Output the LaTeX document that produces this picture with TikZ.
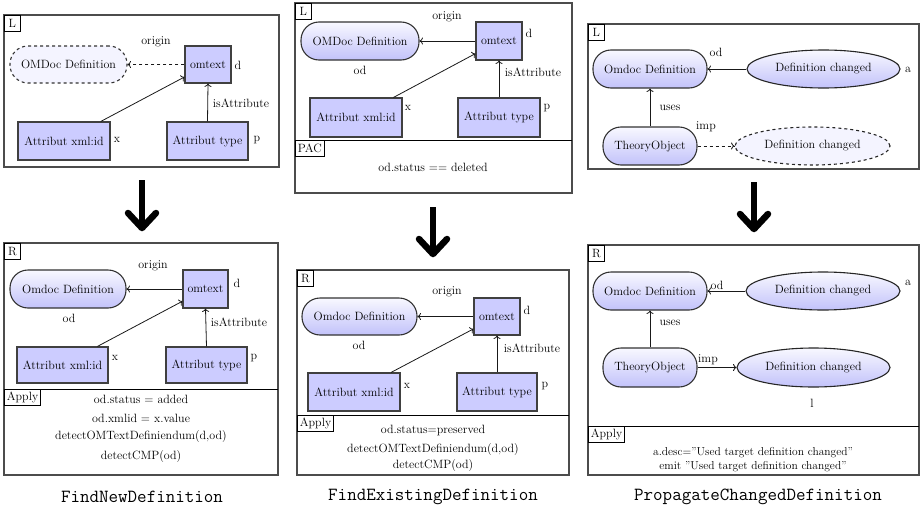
\documentclass[tikz,border=0pt]{standalone}
\usepackage{fontspec}
\usetikzlibrary{shapes.geometric,arrows.meta}
\definecolor{nodeblue}{RGB}{204,204,255}
\definecolor{gradtop}{RGB}{248,248,255}
\definecolor{gradbot}{RGB}{194,194,250}
\definecolor{paleblue}{RGB}{244,244,255}
\begin{document}
\begin{tikzpicture}[x=1pt,y=-1pt,font=\fontsize{12}{14}\selectfont,
  frame/.style={draw=black!70,line width=1.2pt},
  sepline/.style={draw=black,line width=0.8pt},
  tag/.style={draw,line width=0.8pt,anchor=north west,inner xsep=2.5pt,inner ysep=1.5pt,minimum width=16pt,minimum height=16pt,fill=white},
  rectnode/.style={draw=black!75,line width=1.1pt,fill=nodeblue,inner sep=0pt},
  roundnode/.style={draw=black!80,line width=1.1pt,rounded corners=18pt,top color=gradtop,bottom color=gradbot,inner sep=0pt},
  dashround/.style={draw=black!80,dashed,line width=1.1pt,rounded corners=18pt,fill=paleblue,inner sep=0pt},
  ellnode/.style={ellipse,draw=black!85,line width=1.1pt,top color=gradtop,bottom color=gradbot,inner sep=0pt},
  dashell/.style={ellipse,draw=black!85,dashed,line width=1.1pt,fill=paleblue,inner sep=0pt},
  conn/.style={->,line width=0.8pt,draw=black!90},
  bigshaft/.style={line width=6.5pt},
  bighead/.style={line width=6.5pt,line cap=round,line join=round},
  lbl/.style={inner sep=0pt},
  rule/.style={inner sep=0pt},
  caption/.style={inner sep=0pt,font=\fontsize{18.5}{21}\selectfont\ttfamily}]
\useasboundingbox (0,0) rectangle (921,514);

% ===== Panel 1 L =====
\draw[frame] (4,15) rectangle (279,167);
\node[tag] (t1L) at (4,15) {L};
\node[dashround,minimum width=117pt,minimum height=37pt] (p1od) at (68.5,64.5) {OMDoc Definition};
\node[rectnode,minimum width=46pt,minimum height=37pt] (p1om) at (208,64.5) {omtext};
\node[lbl] (p1d) at (238,65) {d};
\node[lbl] (p1or) at (156,42) {origin};
\node[rectnode,minimum width=92pt,minimum height=38pt] (p1x) at (64,141) {Attribut xml:id};
\node[lbl] (p1xl) at (117,140) {x};
\node[rectnode,minimum width=81pt,minimum height=38pt] (p1t) at (207.5,141) {Attribut type};
\node[lbl] (p1pl) at (257,140) {p};
\node[lbl] (p1ia) at (241,103) {isAttribute};
\draw[conn,dashed] (p1om) -- (p1od);
\draw[conn] (p1x) -- (p1om);
\draw[conn] (p1t.north) -- (p1om.south);

\coordinate (a1s) at (142,180);
\coordinate (a1e) at (142,226);
\coordinate (a1t) at (142,228);
\coordinate (a1l) at (128,213);
\coordinate (a1r) at (156,213);
\draw[bigshaft] (a1s) -- (a1e);
\draw[bighead] (a1l) -- (a1t) -- (a1r);

% ===== Panel 1 R =====
\draw[frame] (4,243) rectangle (278,475);
\draw[sepline] (4,389) -- (278,389);
\node[tag] (t1R) at (4,243) {R};
\node[roundnode,minimum width=116pt,minimum height=38pt] (p1rod) at (68,289) {Omdoc Definition};
\node[rectnode,minimum width=45pt,minimum height=38pt] (p1rom) at (205.5,289) {omtext};
\node[lbl] (p1rd) at (237,283) {d};
\node[lbl] (p1ror) at (153,266) {origin};
\node[lbl] (p1rodl) at (69,318) {od};
\node[lbl] (p1ria) at (239,322) {isAttribute};
\node[rectnode,minimum width=91pt,minimum height=36pt] (p1rx) at (62.5,365) {Attribut xml:id};
\node[lbl] (p1rxl) at (115,358) {x};
\node[rectnode,minimum width=81pt,minimum height=36pt] (p1rt) at (206.5,365) {Attribut type};
\node[lbl] (p1rpl) at (254,358) {p};
\draw[conn] (p1rom) -- (p1rod);
\draw[conn] (p1rx) -- (p1rom);
\draw[conn] (p1rt.north) -- (p1rom.south);
\node[tag] (t1A) at (4,389) {Apply};
\node[rule] (r1a) at (141,399) {od.status $=$ added};
\node[rule] (r1b) at (141,418) {od.xmlid $=$ x.value};
\node[rule] (r1c) at (141,437) {detectOMTextDefiniendum(d,od)};
\node[rule] (r1d) at (141,457) {detectCMP(od)};

% ===== Panel 2 L =====
\draw[frame] (295,3) rectangle (572,193);
\draw[sepline] (295,140) -- (572,140);
\node[tag] (t2L) at (295,3) {L};
\node[roundnode,minimum width=118pt,minimum height=38pt] (p2od) at (360,41) {OMDoc Definition};
\node[rectnode,minimum width=46pt,minimum height=38pt] (p2om) at (499,41) {omtext};
\node[lbl] (p2d) at (529,33) {d};
\node[lbl] (p2or) at (447,17) {origin};
\node[lbl] (p2odl) at (360,70) {od};
\node[lbl] (p2ia) at (533,72) {isAttribute};
\node[rectnode,minimum width=92pt,minimum height=39pt] (p2x) at (356,117.5) {Attribut xml:id};
\node[lbl] (p2xl) at (408,108) {x};
\node[rectnode,minimum width=82pt,minimum height=39pt] (p2t) at (499,117.5) {Attribut type};
\node[lbl] (p2pl) at (547,108) {p};
\draw[conn] (p2om) -- (p2od);
\draw[conn] (p2x) -- (p2om);
\draw[conn] (p2t.north) -- (p2om.south);
\node[tag] (t2P) at (295,140) {PAC};
\node[rule] (r2p) at (433,167) {od.status $==$ deleted};

\coordinate (a2s) at (433,207);
\coordinate (a2e) at (433,252);
\coordinate (a2t) at (433,254);
\coordinate (a2l) at (419,239);
\coordinate (a2r) at (447,239);
\draw[bigshaft] (a2s) -- (a2e);
\draw[bighead] (a2l) -- (a2t) -- (a2r);

% ===== Panel 2 R =====
\draw[frame] (297,270) rectangle (569,475);
\draw[sepline] (297,415) -- (569,415);
\node[tag] (t2R) at (297,270) {R};
\node[roundnode,minimum width=115pt,minimum height=37pt] (p2rod) at (359.5,316.5) {Omdoc Definition};
\node[rectnode,minimum width=46pt,minimum height=37pt] (p2rom) at (497,316.5) {omtext};
\node[lbl] (p2rd) at (527,310) {d};
\node[lbl] (p2ror) at (447,292) {origin};
\node[lbl] (p2rodl) at (359,345) {od};
\node[lbl] (p2ria) at (532,348) {isAttribute};
\node[rectnode,minimum width=92pt,minimum height=38pt] (p2rx) at (354,392) {Attribut xml:id};
\node[lbl] (p2rxl) at (407,386) {x};
\node[rectnode,minimum width=80pt,minimum height=38pt] (p2rt) at (497,392) {Attribut type};
\node[lbl] (p2rpl) at (545,386) {p};
\draw[conn] (p2rom) -- (p2rod);
\draw[conn] (p2rx) -- (p2rom);
\draw[conn] (p2rt.north) -- (p2rom.south);
\node[tag] (t2A) at (297,415) {Apply};
\node[rule] (r2a) at (433,430) {od.status=preserved};
\node[rule] (r2b) at (433,450) {detectOMTextDefiniendum(d,od)};
\node[rule] (r2c) at (433,465) {detectCMP(od)};

% ===== Panel 3 L =====
\draw[frame] (588,24) rectangle (919,169);
\node[tag] (t3L) at (588,24) {L};
\node[roundnode,minimum width=114pt,minimum height=38pt] (p3od) at (650,69) {Omdoc Definition};
\node[ellnode,minimum width=153pt,minimum height=38pt] (p3e) at (823.5,69) {Definition changed};
\node[lbl] (p3al) at (908,70) {a};
\node[lbl] (p3odl) at (716,52) {od};
\node[roundnode,minimum width=94pt,minimum height=38pt] (p3to) at (650,146) {TheoryObject};
\node[dashell,minimum width=155pt,minimum height=38pt] (p3de) at (812.5,146) {Definition changed};
\node[lbl] (p3us) at (670,108) {uses};
\node[lbl] (p3imp) at (706,127) {imp};
\draw[conn] (p3e) -- (p3od);
\draw[conn] (p3to) -- (p3od);
\draw[conn,dashed] (p3to) -- (p3de);

\coordinate (a3s) at (754,182);
\coordinate (a3e) at (754,227);
\coordinate (a3t) at (754,229);
\coordinate (a3l) at (740,214);
\coordinate (a3r) at (768,214);
\draw[bigshaft] (a3s) -- (a3e);
\draw[bighead] (a3l) -- (a3t) -- (a3r);

% ===== Panel 3 R =====
\draw[frame] (588,245) rectangle (919,475);
\draw[sepline] (588,426) -- (919,426);
\node[tag] (t3R) at (588,245) {R};
\node[roundnode,minimum width=114pt,minimum height=38pt] (p3rod) at (650,291) {Omdoc Definition};
\node[ellnode,minimum width=154pt,minimum height=38pt] (p3re) at (823,291) {Definition changed};
\node[lbl] (p3ral) at (908,283) {a};
\node[lbl] (p3rodl) at (717,285) {od};
\node[roundnode,minimum width=94pt,minimum height=39pt] (p3rto) at (650,367.5) {TheoryObject};
\node[ellnode,minimum width=153pt,minimum height=39pt] (p3re2) at (813.5,367.5) {Definition changed};
\node[lbl] (p3rus) at (670,323) {uses};
\node[lbl] (p3rimp) at (708,360) {imp};
\node[lbl] (p3rl) at (812,403) {l};
\draw[conn] (p3re) -- (p3rod);
\draw[conn] (p3rto) -- (p3rod);
\draw[conn] (p3rto) -- (p3re2);
\node[tag] (t3A) at (588,426) {Apply};
\node[rule,font=\fontsize{11.5}{13}\selectfont] (r3a) at (753,453) {a.desc=”Used target definition changed”};
\node[rule,font=\fontsize{11.5}{13}\selectfont] (r3b) at (753,467) {emit ”Used target definition changed”};

% ===== captions =====
\node[caption] (c1) at (142,497) {FindNewDefinition};
\node[caption] (c2) at (433,497) {FindExistingDefinition};
\node[caption] (c3) at (758,497) {PropagateChangedDefinition};
\end{tikzpicture}
\end{document}
